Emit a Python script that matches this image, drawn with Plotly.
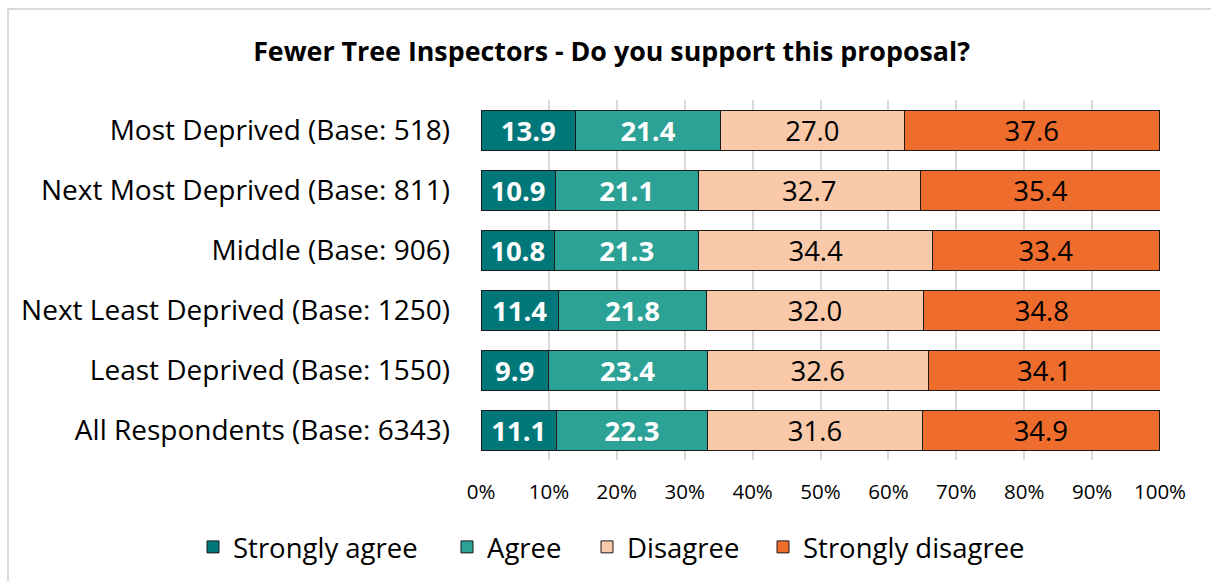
import plotly.graph_objects as go

groups = [
    "Most Deprived (Base: 518)",
    "Next Most Deprived (Base: 811)",
    "Middle (Base: 906)",
    "Next Least Deprived (Base: 1250)",
    "Least Deprived (Base: 1550)",
    "All Respondents (Base: 6343)",
]
strongly_agree = [13.9, 10.9, 10.8, 11.4, 9.9, 11.1]
agree = [21.4, 21.1, 21.3, 21.8, 23.4, 22.3]
disagree = [27.0, 32.7, 34.4, 32.0, 32.6, 31.6]
strongly_disagree = [37.6, 35.4, 33.4, 34.8, 34.1, 34.9]

x_ticks = list(range(0, 101, 10))
x_tick_labels = [f"{v}%" for v in x_ticks]

FONT = "Open Sans"
W, H = 1211, 581
L, R, T, B = 481, 51, 100, 121
pw = W - L - R
ph = H - T - B


def px_x(x):
    """Horizontal pixel position -> paper fraction."""
    return (x - L) / pw


def px_y(y):
    """Vertical pixel position (from top) -> paper fraction."""
    return (T + ph - y) / ph


# (name, values, fill, label colour, bold labels, legend entry left edge in px)
series = [
    ("Strongly agree", strongly_agree, "#00787A", "white", True, 193),
    ("Agree", agree, "#2BA295", "white", True, 447),
    ("Disagree", disagree, "#F9C9A9", "black", False, 587),
    ("Strongly disagree", strongly_disagree, "#EE6C2C", "black", False, 763),
]

fig = go.Figure()
legends = {}
for i, (name, vals, color, tcolor, bold, lx) in enumerate(series):
    lname = "legend" if i == 0 else f"legend{i + 1}"
    fig.add_trace(go.Bar(
        name=name,
        y=groups,
        x=vals,
        orientation="h",
        marker=dict(color=color, line=dict(color="#1a1a1a", width=1)),
        text=vals,
        texttemplate="%{x:.1f}",
        textposition="inside",
        insidetextanchor="middle",
        textangle=0,
        constraintext="none",
        textfont=dict(family=FONT, size=27.5, color=tcolor,
                      weight="bold" if bold else "normal"),
        hoverinfo="skip",
        legend=lname,
        showlegend=True,
    ))
    legends[lname] = dict(
        orientation="h",
        x=px_x(lx), xref="paper", xanchor="left",
        y=px_y(547), yref="paper", yanchor="middle",
        font=dict(family=FONT, size=27.5, color="black"),
        bgcolor="rgba(0,0,0,0)",
        borderwidth=0,
    )

fig.update_layout(
    width=W, height=H,
    showlegend=True,
    barmode="stack",
    bargap=1/3,
    margin=dict(l=L, r=R, t=T, b=B, autoexpand=False),
    paper_bgcolor="white",
    plot_bgcolor="white",
    font=dict(family=FONT, color="black"),
    title=dict(
        text="<b>Fewer Tree Inspectors - Do you support this proposal?</b>",
        x=0.505, xref="container", xanchor="center",
        y=1 - 52 / H, yref="container", yanchor="middle",
        font=dict(family=FONT, size=26.8, color="black"),
    ),
    xaxis=dict(
        range=[0, 100],
        tickvals=x_ticks,
        ticktext=x_tick_labels,
        showgrid=True, gridcolor="#D9D9D9", gridwidth=2,
        zeroline=False, showline=False,
        ticks="", ticklabelstandoff=17,
        tickfont=dict(family=FONT, size=20.5, color="black"),
        automargin=False,
        fixedrange=True,
    ),
    yaxis=dict(
        categoryorder="array", categoryarray=groups,
        autorange="reversed",
        showgrid=False, zeroline=False, showline=False,
        ticks="", ticklabelstandoff=30,
        tickfont=dict(family=FONT, size=28, color="black"),
        automargin=False,
        fixedrange=True,
    ),
    # outer chart frame, running off the right and bottom edges
    shapes=[dict(
        type="rect", xref="paper", yref="paper",
        x0=px_x(8), x1=px_x(W + 10),
        y0=px_y(H + 10), y1=px_y(9),
        line=dict(color="#D9D9D9", width=2),
        fillcolor="rgba(0,0,0,0)",
        layer="below",
    )],
    **legends,
)

fig.write_html("out.html")
